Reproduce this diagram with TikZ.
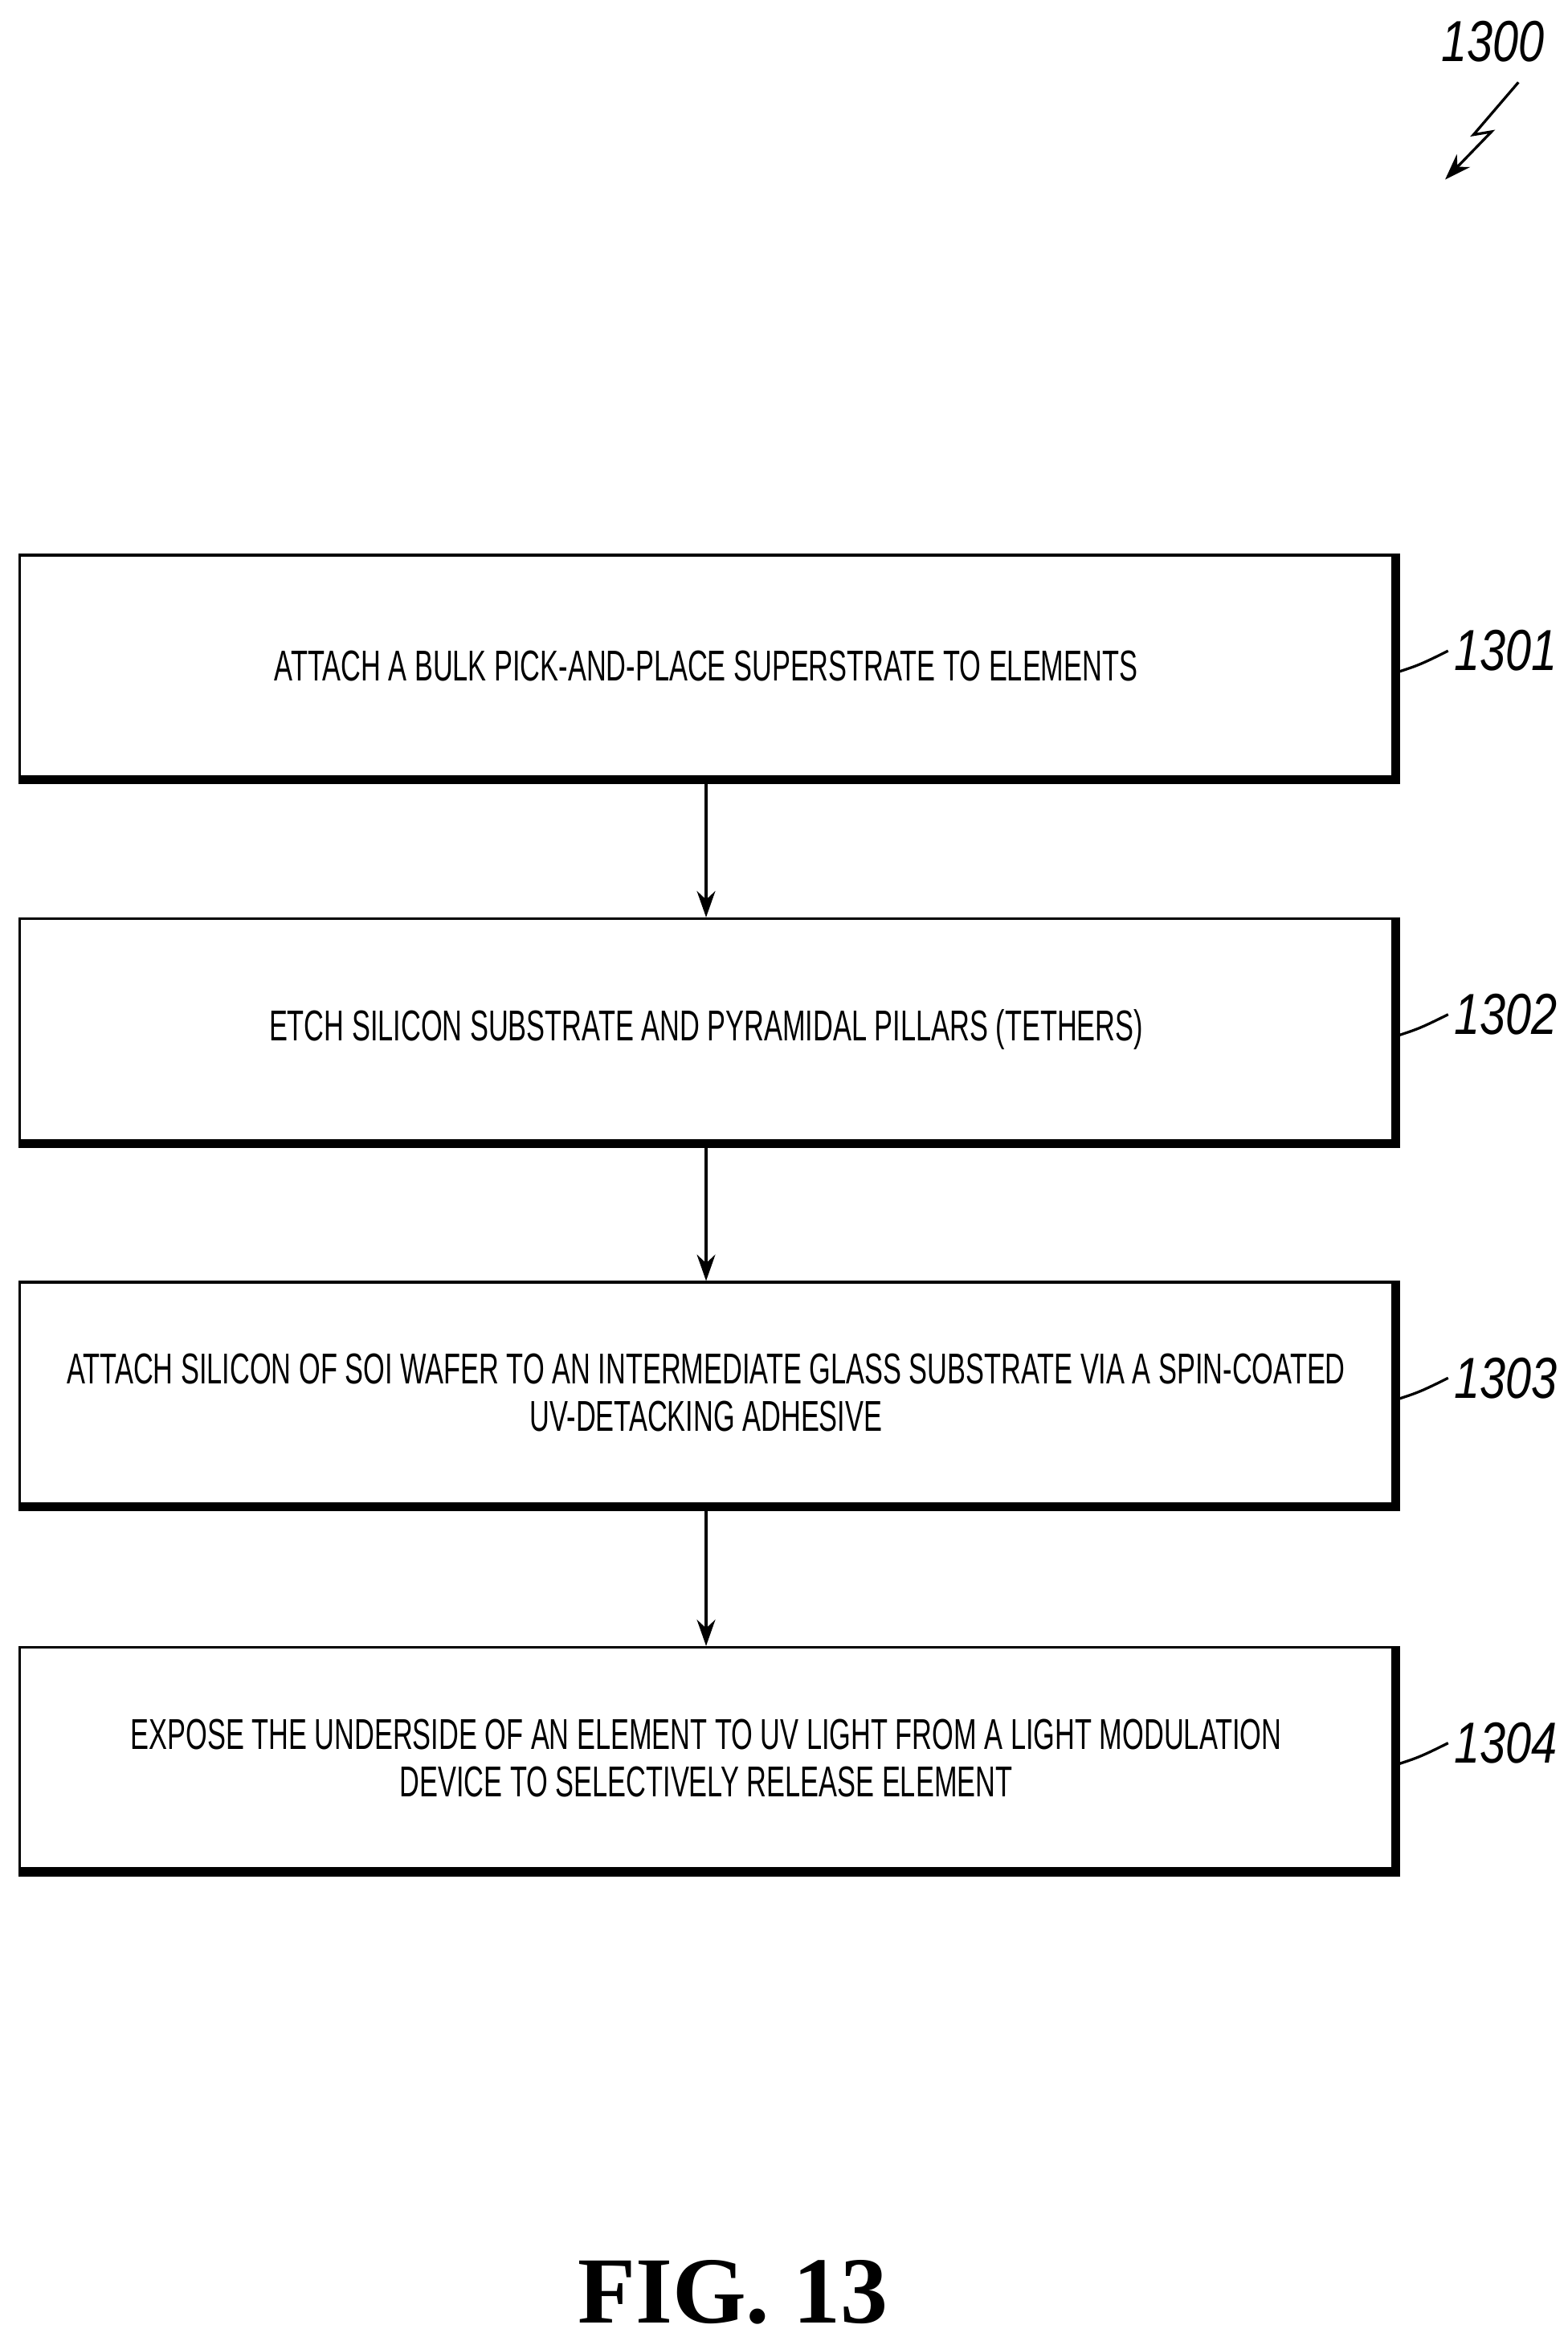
\documentclass[tikz,border=0pt]{standalone}
\usepackage{fontspec}
\setmainfont{Liberation Sans}
\newfontfamily\narrowf[FakeStretch=0.64]{Liberation Sans}
\newfontfamily\numf[FakeStretch=0.8]{Liberation Sans}
\newfontfamily\figf{Liberation Serif}
\usetikzlibrary{arrows.meta}
\begin{document}
\begin{tikzpicture}[x=0.01cm,y=-0.01cm,
  box/.style={draw,line width=0.5pt,minimum width=918*0.01cm,minimum height=148*0.01cm,inner sep=0pt,align=center,font=\narrowf\fontsize{8.2}{9}\selectfont},
  lbl/.style={font=\numf\itshape\fontsize{11}{12}\selectfont,inner sep=1pt},
  arr/.style={-{Stealth[length=5pt,width=3.5pt]},line width=0.5pt}]
\useasboundingbox (0,0) rectangle (1048,1562);
\foreach \n/\y/\t in {1/445/{ATTACH A BULK PICK-AND-PLACE SUPERSTRATE TO ELEMENTS},
  2/688/{ETCH SILICON SUBSTRATE AND PYRAMIDAL PILLARS (TETHERS)},
  3/931/{ATTACH SILICON OF SOI WAFER TO AN INTERMEDIATE GLASS SUBSTRATE VIA  A SPIN-COATED\\UV-DETACKING ADHESIVE},
  4/1175/{EXPOSE THE UNDERSIDE OF AN ELEMENT TO UV LIGHT FROM A LIGHT MODULATION\\DEVICE TO SELECTIVELY RELEASE ELEMENT}}{
  \node[box] (b\n) at (472,\y) {\t};
  \draw[line width=1.6pt] ([xshift=0.4pt]b\n.north east) -- ([xshift=0.4pt,yshift=-0.4pt]b\n.south east) -- ([yshift=-0.4pt]b\n.south west);
  \node[lbl,anchor=west] (l\n) at (968,\y-10) {130\n};
  \draw[line width=0.5pt] (b\n.east) ++(0,5) .. controls +(15,-5) and +(-20,10) .. (l\n.west);
}
\draw[arr] (b1) -- (b2);
\draw[arr] (b2) -- (b3);
\draw[arr] (b3) -- (b4);
\node[lbl] (top) at (998,28) {1300};
\coordinate (t1) at (1015,55);
\coordinate (t2) at (985,90);
\coordinate (t3) at (997,88);
\coordinate (t4) at (966,120);
\draw[arr] (t1) -- (t2) -- (t3) -- (t4);
\node[font=\figf\bfseries\fontsize{18}{20}\selectfont] (fig) at (490,1532) {FIG. 13};
\end{tikzpicture}
\end{document}
